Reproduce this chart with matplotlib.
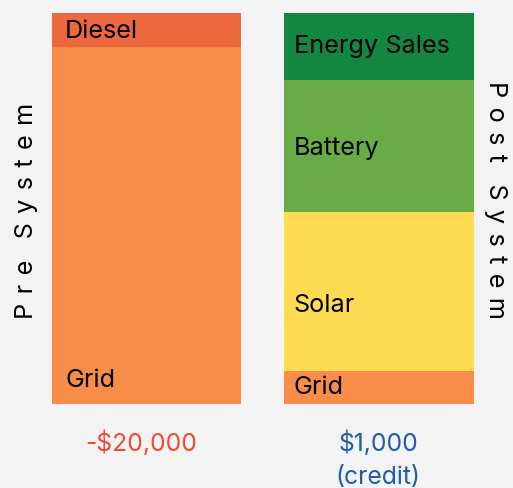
import matplotlib
matplotlib.use('Agg')
import matplotlib.pyplot as plt

# Datos (porcentaje de altura de cada segmento)
bars = ['Pre System', 'Post System']
pre_labels = ['Grid', 'Diesel']
pre_values = [91.3, 8.7]
post_labels = ['Grid', 'Solar', 'Battery', 'Energy Sales']
post_values = [8.4, 40.7, 33.8, 17.1]
totals = ['-$20,000', '$1,000\n(credit)']

colors = {
    'Grid': '#f78d47',
    'Diesel': '#ed693d',
    'Solar': '#fedb53',
    'Battery': '#69ac45',
    'Energy Sales': '#138641',
}
total_colors = ['#ee4b30', '#1f5fa8']
# desplazamiento vertical de la etiqueta respecto al centro del segmento
label_shift = {
    (0, 'Grid'): -39.7, (0, 'Diesel'): -0.5,
    (1, 'Grid'): -0.1, (1, 'Solar'): -3.5, (1, 'Battery'): -0.7, (1, 'Energy Sales'): 0.0,
}
label_pad = [0.056, 0.041]

plt.rcParams['font.family'] = ['Inter', 'DejaVu Sans']
bg = '#f3f3f3'
fig = plt.figure(figsize=(5.13, 4.88), dpi=100, facecolor=bg)
ax = fig.add_axes([52 / 513, 84 / 488, 421.7 / 513, 391 / 488])
ax.set_facecolor(bg)

width = 0.815
for i, (labels, values) in enumerate([(pre_labels, pre_values), (post_labels, post_values)]):
    bottom = 0
    for lab, val in zip(labels, values):
        ax.bar(i, val, width=width, bottom=bottom, color=colors[lab], linewidth=0)
        ax.text(i - width / 2 + label_pad[i], bottom + val / 2 + label_shift[(i, lab)], lab,
                ha='left', va='center', fontsize=18.2, color='black')
        bottom += val

ax.set_xlim(-width / 2, 1 + width / 2)
ax.set_ylim(0, 100)
ax.axis('off')

# Totales debajo de cada barra
fig.text(141 / 513, 1 - 443 / 488, totals[0], ha='center', va='center',
         fontsize=17.8, color=total_colors[0])
fig.text(378 / 513, 1 - 460 / 488, totals[1], ha='center', va='center',
         fontsize=17.8, color=total_colors[1], linespacing=1.55)


def spaced(word):
    # espaciado entre letras
    return ' \u200a'.join(word)


# Titulos laterales con espaciado entre letras
fig.text(27 / 513, 1 - 211 / 488, spaced('Pre') + '   ' + spaced('System'), rotation=90,
         ha='center', va='center', fontsize=18.2, color='black')
fig.text(496 / 513, 1 - 200 / 488, spaced('Post') + '   ' + spaced('System'), rotation=270,
         ha='center', va='center', fontsize=18.2, color='black')

fig.savefig('out.png', dpi=100, facecolor=bg)
